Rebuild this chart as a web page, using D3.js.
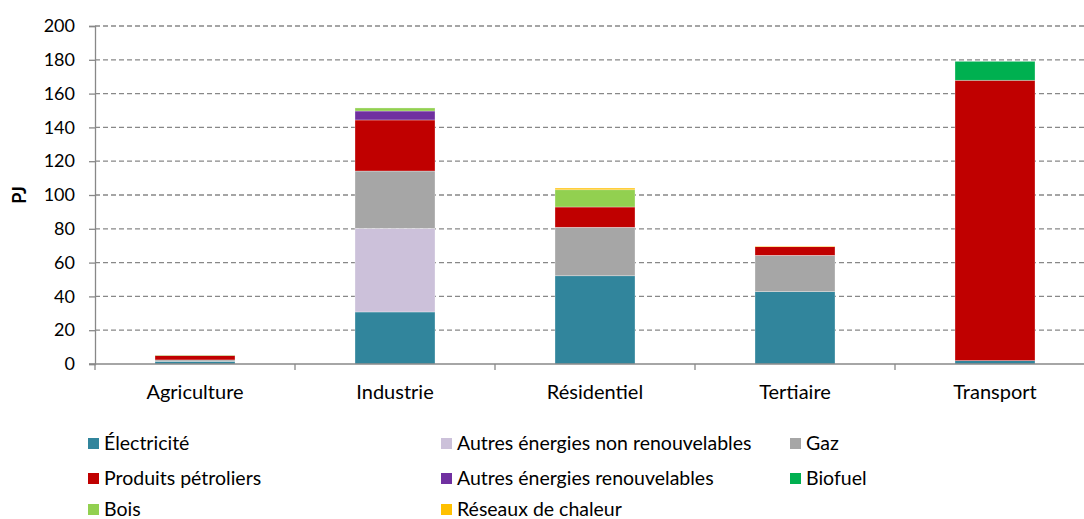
<!DOCTYPE html>
<html>
<head>
<meta charset="utf-8">
<script src="https://cdn.jsdelivr.net/npm/d3@7"></script>
<style>
  body { margin: 0; background: #fff; }
  text { font-family: Lato, "Open Sans", sans-serif; fill: #000; }
</style>
</head>
<body>
<div id="chart"></div>
<script>
// data (PJ)
var categories = ["Agriculture", "Industrie", "Résidentiel", "Tertiaire", "Transport"]
var electricite   = [1.6, 30.8, 52.2, 42.8, 2.0]
var autresNonRen  = [0, 49.5, 0, 0, 0]
var gaz           = [0.8, 33.9, 28.7, 21.5, 0]
var petroliers    = [2.6, 30.2, 12.0, 5.1, 165.9]
var autresRen     = [0, 5.3, 0, 0, 0]
var biofuel       = [0, 0, 0, 0, 11.2]
var bois          = [0.3, 1.8, 10.2, 0, 0]
var chaleur       = [0, 0, 1.0, 0.4, 0]
var yTicks = [0, 20, 40, 60, 80, 100, 120, 140, 160, 180, 200]

var series = [
  {key: "Électricité", values: electricite, color: "#31859C"},
  {key: "Autres énergies non renouvelables", values: autresNonRen, color: "#CCC1DA"},
  {key: "Gaz", values: gaz, color: "#A6A6A6"},
  {key: "Produits pétroliers", values: petroliers, color: "#C00000"},
  {key: "Autres énergies renouvelables", values: autresRen, color: "#7030A0"},
  {key: "Biofuel", values: biofuel, color: "#00B050"},
  {key: "Bois", values: bois, color: "#92D050"},
  {key: "Réseaux de chaleur", values: chaleur, color: "#FFC000"}
]
// stacking order from the bottom (legend order differs)
var stackOrder = ["Électricité", "Autres énergies non renouvelables", "Gaz", "Produits pétroliers",
                  "Autres énergies renouvelables", "Biofuel", "Bois", "Réseaux de chaleur"]

var width = 1084, height = 519
var svg = d3.select("#chart").append("svg")
  .attr("width", width).attr("height", height)

// build table rows for d3.stack
var rows = categories.map(function(c, i) {
  var r = {cat: c}
  series.forEach(function(s) { r[s.key] = s.values[i] })
  return r
})
var stacked = d3.stack().keys(stackOrder)(rows)
var colorOf = {}
series.forEach(function(s) { colorOf[s.key] = s.color })

var x = d3.scaleBand().domain(categories).range([95, 1095]).paddingInner(0.6).paddingOuter(0.3)
var y = d3.scaleLinear().domain([0, 200]).range([364, 26])

// gridlines
svg.append("g").selectAll("line")
  .data(yTicks.slice(1))
  .enter().append("line")
  .attr("x1", 95).attr("x2", width)
  .attr("y1", function(d) { return y(d) }).attr("y2", function(d) { return y(d) })
  .attr("stroke", "#888").attr("stroke-width", 1.3)
  .attr("stroke-dasharray", "5,3")

// y axis
var yAxis = svg.append("g").attr("transform", "translate(95,0)")
  .call(d3.axisLeft(y).tickValues(yTicks).tickSize(6).tickPadding(14))
yAxis.select(".domain").attr("stroke", "#888").attr("stroke-width", 1.3)
yAxis.selectAll(".tick line").attr("stroke", "#888").attr("stroke-width", 1.3)
yAxis.selectAll(".tick text").style("font-size", "18px").style("font-family", "Lato").attr("fill", "#000")

svg.append("text")
  .attr("transform", "translate(26,195) rotate(-90)")
  .attr("text-anchor", "middle")
  .style("font-size", "18px").style("font-weight", "bold")
  .text("PJ")

// bars
svg.append("g").selectAll("g")
  .data(stacked)
  .enter().append("g")
  .attr("fill", function(d) { return colorOf[d.key] })
  .selectAll("rect")
  .data(function(d) { return d })
  .enter().append("rect")
  .attr("x", function(d) { return x(d.data.cat) })
  .attr("width", x.bandwidth())
  .attr("y", function(d) { return y(d[1]) })
  .attr("height", function(d) { return y(d[0]) - y(d[1]) })
  .attr("stroke", "rgba(255,255,255,0.5)").attr("stroke-width", 0.6)

// x axis
var xAxis = svg.append("g").attr("transform", "translate(0,364)")
xAxis.append("line").attr("x1", 89).attr("x2", width).attr("y1", 0).attr("y2", 0)
  .attr("stroke", "#888").attr("stroke-width", 1.6)
var bounds = categories.map(function(c) { return x(c) - x.step() * 0.3 }).concat([1095])
xAxis.selectAll(".xt").data(bounds).enter().append("line")
  .attr("x1", function(d) { return d }).attr("x2", function(d) { return d })
  .attr("y1", 0).attr("y2", 6).attr("stroke", "#888").attr("stroke-width", 1.3)
xAxis.selectAll(".xl").data(categories).enter().append("text")
  .attr("x", function(d) { return x(d) + x.bandwidth() / 2 })
  .attr("y", 35)
  .attr("text-anchor", "middle")
  .style("font-size", "20px")
  .text(function(d) { return d })

// legend
var legendPos = [[88, 443], [441, 443], [790, 443], [88, 478], [441, 478], [790, 478], [88, 509], [441, 509]]
var legend = svg.append("g").selectAll("g")
  .data(series)
  .enter().append("g")
  .attr("transform", function(d, i) { return "translate(" + legendPos[i][0] + "," + legendPos[i][1] + ")" })
legend.append("rect").attr("x", 0).attr("y", -5).attr("width", 11).attr("height", 11)
  .attr("fill", function(d) { return d.color })
legend.append("text").attr("x", 16).attr("y", 6.5)
  .style("font-size", "19.5px")
  .text(function(d) { return d.key })
</script>
</body>
</html>
